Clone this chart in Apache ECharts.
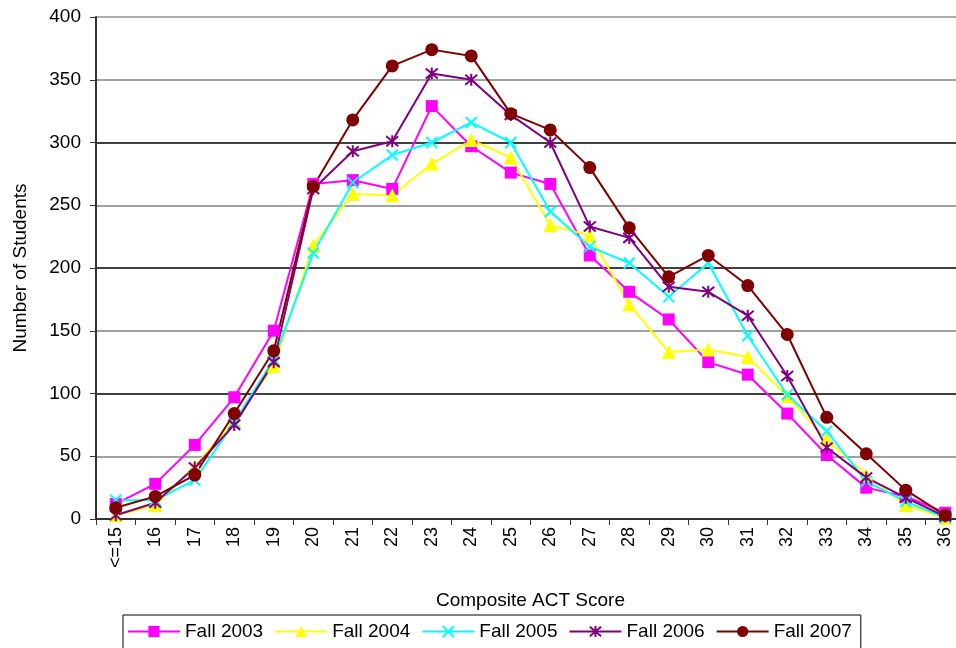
<!DOCTYPE html>
<html>
<head>
<meta charset="utf-8">
<script src="https://cdn.jsdelivr.net/npm/echarts@6/dist/echarts.min.js"></script>
<style>
html,body{margin:0;padding:0;background:#fff;}
#chart{width:956px;height:648px;}
</style>
</head>
<body>
<div id="chart"></div>
<script>
var categories = ['<=15','16','17','18','19','20','21','22','23','24','25','26','27','28','29','30','31','32','33','34','35','36'];
var fall2003 = [12, 28, 59, 97, 150, 267, 270, 263, 329, 297, 276, 267, 210, 181, 159, 125, 115, 84, 51, 25, 18, 5];
var fall2004 = [3, 11, 42, 78, 122, 218, 259, 258, 283, 302, 288, 234, 226, 171, 133, 135, 129, 98, 63, 35, 11, 1];
var fall2005 = [15, 15, 31, 77, 127, 212, 268, 290, 300, 316, 300, 245, 217, 204, 177, 204, 146, 99, 70, 30, 14, 1];
var fall2006 = [3, 13, 41, 75, 125, 263, 293, 301, 355, 350, 322, 300, 233, 224, 185, 181, 162, 114, 57, 33, 17, 2];
var fall2007 = [9, 18, 35, 84, 134, 265, 318, 361, 374, 369, 323, 310, 280, 232, 193, 210, 186, 147, 81, 52, 23, 3];
var seriesNames = ['Fall 2003','Fall 2004','Fall 2005','Fall 2006','Fall 2007'];
var yTicks = {min: 0, max: 400, interval: 50};

var FONT = '"Liberation Sans", Arial, sans-serif';
var xPath = 'path://M0 0 L10 10 M10 0 L0 10';
var starPath = 'path://M0 0 L10 10 M10 0 L0 10 M5 -1 L5 11';

function mk(name, data, color, symbol, size, stroke) {
  var s = {
    name: name, type: 'line', data: data,
    symbol: symbol, symbolSize: size, showAllSymbol: true,
    lineStyle: {color: color, width: 2},
    itemStyle: {color: color},
    emphasis: {disabled: true},
    animation: false
  };
  if (stroke) {
    s.itemStyle = {color: 'rgba(0,0,0,0)', borderColor: color, borderWidth: 2};
  }
  return s;
}

var chart = echarts.init(document.getElementById('chart'), null, {renderer: 'canvas'});
chart.setOption({
  animation: false,
  color: ['#FF00FF','#FFFF00','#00FFFF','#800080','#800000'],
  textStyle: {fontFamily: FONT},
  grid: {left: 96, width: 869, top: 17, height: 502, containLabel: false, outerBoundsMode: 'none'},
  legend: {
    data: seriesNames,
    left: 123, top: 615,
    padding: [7, 9, 30, 4],
    borderColor: '#000', borderWidth: 1,
    itemWidth: 52, itemHeight: 14, itemGap: 11,
    textStyle: {fontFamily: FONT, fontSize: 19, color: '#000'}
  },
  xAxis: {
    type: 'category', data: categories, boundaryGap: true,
    name: 'Composite ACT Score', nameLocation: 'middle', nameGap: 72,
    nameTextStyle: {fontFamily: FONT, fontSize: 19, color: '#000'},
    axisLine: {lineStyle: {color: '#333', width: 2}},
    axisTick: {show: true, length: 6, lineStyle: {color: '#333'}},
    axisLabel: {rotate: 90, interval: 0, fontFamily: FONT, fontSize: 18, color: '#000', margin: 8},
    splitLine: {show: false}
  },
  yAxis: {
    type: 'value', min: yTicks.min, max: yTicks.max, interval: yTicks.interval,
    name: 'Number of Students', nameLocation: 'middle', nameGap: 66,
    nameTextStyle: {fontFamily: FONT, fontSize: 19, color: '#000'},
    axisLine: {show: true, lineStyle: {color: '#333', width: 2}},
    axisTick: {show: true, length: 6, lineStyle: {color: '#333'}},
    axisLabel: {fontFamily: FONT, fontSize: 19, color: '#000', margin: 15},
    splitLine: {show: true, lineStyle: {color: ['#000', '#808080', '#000', '#808080', '#000', '#808080', '#000', '#808080', '#909090'], width: 1.5}}
  },
  series: [
    mk(seriesNames[0], fall2003, '#FF00FF', 'rect', 12, false),
    mk(seriesNames[1], fall2004, '#FFFF00', 'triangle', 14, false),
    mk(seriesNames[2], fall2005, '#00FFFF', xPath, 11, true),
    mk(seriesNames[3], fall2006, '#800080', starPath, 12, true),
    mk(seriesNames[4], fall2007, '#800000', 'circle', 13, false)
  ]
});
</script>
</body>
</html>
